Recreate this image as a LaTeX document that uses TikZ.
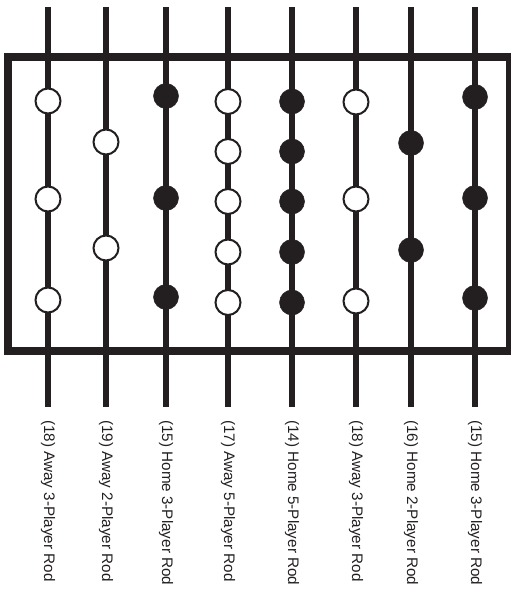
\documentclass[tikz,border=0pt]{standalone}
\usepackage{fontspec}
\setmainfont{Liberation Sans}
\definecolor{ink}{HTML}{231F20}
\begin{document}
\begin{tikzpicture}[x=1bp,y=-1bp,
  rod/.style={draw=ink,line width=5.5bp},
  frame/.style={draw=ink,line width=8bp},
  away/.style={circle,draw=ink,fill=white,line width=2bp,minimum size=25bp,inner sep=0pt},
  home/.style={circle,draw=ink,fill=ink,line width=0.5bp,minimum size=25bp,inner sep=0pt},
  lbl/.style={rotate=-90,anchor=west,inner sep=0pt,font=\fontsize{15.3}{17}\selectfont,text=ink}]
\useasboundingbox (0,0) rectangle (511,592);
% rods
\foreach \i/\x in {1/48, 2/106, 3/166, 4/228, 5/292, 6/356, 7/411, 8/475}{
  \coordinate (t\i) at (\x,7);
  \coordinate (b\i) at (\x,407);
  \draw[rod] (t\i) -- (b\i);
}
\draw[frame] (8,57) rectangle (510,351);
% balls
\node[away] (r1a) at (48,101) {};
\node[away] (r1b) at (48,199) {};
\node[away] (r1c) at (48,300) {};
\node[away] (r2a) at (106,142) {};
\node[away] (r2b) at (106,248) {};
\node[home] (r3a) at (166,96) {};
\node[home] (r3b) at (166,198) {};
\node[home] (r3c) at (166,297) {};
\node[away] (r4a) at (228,101.5) {};
\node[away] (r4b) at (228,151.5) {};
\node[away] (r4c) at (228,201.5) {};
\node[away] (r4d) at (228,252) {};
\node[away] (r4e) at (228,302.5) {};
\node[home] (r5a) at (292,101.5) {};
\node[home] (r5b) at (292,151.5) {};
\node[home] (r5c) at (292,201.5) {};
\node[home] (r5d) at (292,252) {};
\node[home] (r5e) at (292,302.5) {};
\node[away] (r6a) at (356,102) {};
\node[away] (r6b) at (356,199) {};
\node[away] (r6c) at (356,301) {};
\node[home] (r7a) at (411,143) {};
\node[home] (r7b) at (411,250) {};
\node[home] (r8a) at (475,97) {};
\node[home] (r8b) at (475,198) {};
\node[home] (r8c) at (475,298) {};
% labels
\node[lbl] (l1) at (48,420) {(18) Away 3-Player Rod};
\node[lbl] (l2) at (106,420) {(19) Away 2-Player Rod};
\node[lbl] (l3) at (166,420) {(15) Home 3-Player Rod};
\node[lbl] (l4) at (228,420) {(17) Away 5-Player Rod};
\node[lbl] (l5) at (292,420) {(14) Home 5-Player Rod};
\node[lbl] (l6) at (356,420) {(18) Away 3-Player Rod};
\node[lbl] (l7) at (411,420) {(16) Home 2-Player Rod};
\node[lbl] (l8) at (475,420) {(15) Home 3-Player Rod};
\end{tikzpicture}
\end{document}
